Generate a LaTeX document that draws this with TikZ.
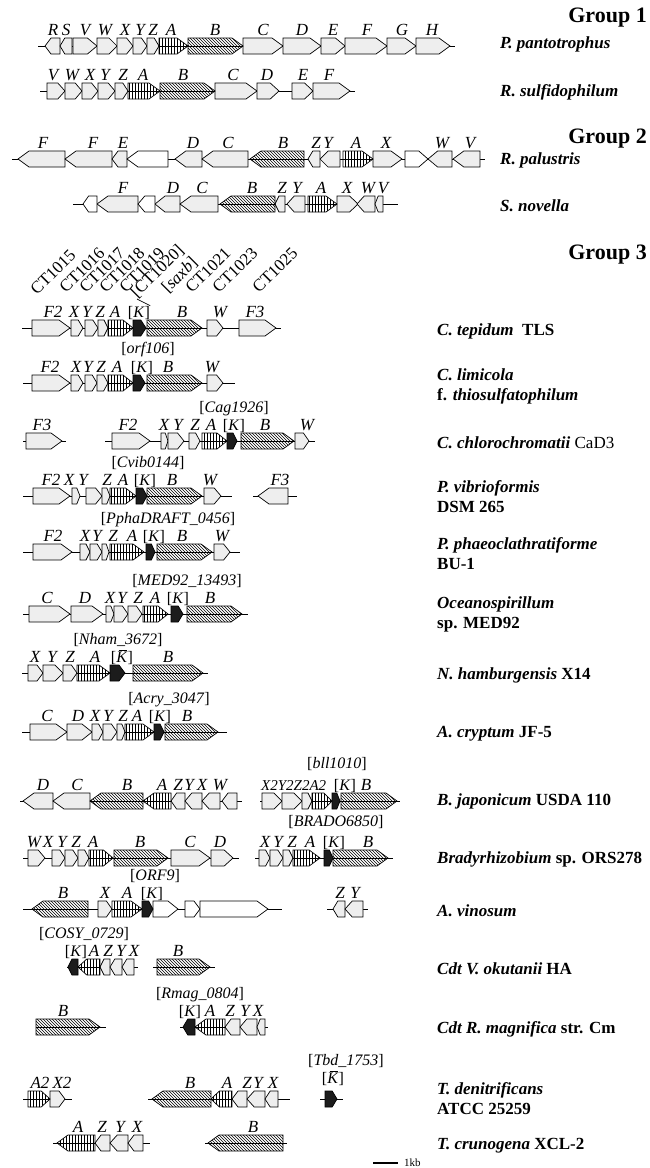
\documentclass[tikz,border=0pt]{standalone}
\usepackage{fontspec}
\setmainfont{Liberation Serif}
\usetikzlibrary{patterns}
\definecolor{genefill}{HTML}{EEEEEE}
\definecolor{kfill}{HTML}{1C1C1C}
\newcommand{\gene}[4]{%
    % #1=style, #2=start x, #3=tip x, #4=row y
    \pgfmathsetmacro{\gtip}{min(11,0.4*abs(#3-#2))*sign(#3-#2)}
    \draw[#1] (#2,#4-8) -- ({#3-\gtip},#4-8) -- (#3,#4) -- ({#3-\gtip},#4+8) -- (#2,#4+8) -- cycle;
}
\newcommand{\Kbar}{[\textit{\makebox[0pt][l]{\hspace{0.14em}\rule[0.74em]{0.55em}{0.6pt}}K}]}

\begin{document}
\begin{tikzpicture}[x=1pt, y=-1pt,
    genebox/.style={draw, fill=genefill, line width=0.7pt},
    geneA/.style={draw, pattern=vertical lines, line width=0.7pt},
    geneB/.style={draw, pattern=north west lines, line width=0.7pt},
    geneK/.style={draw, fill=kfill, line width=0.7pt},
    geneW/.style={draw, fill=white, line width=0.7pt},
    spine/.style={line width=0.7pt},
    genelab/.style={font=\fontsize{17}{17}\selectfont\itshape, anchor=base, inner sep=0pt},
    locuslab/.style={font=\fontsize{16}{16}\selectfont, anchor=base, inner sep=0pt},
    taglab/.style={font=\fontsize{17}{17}\selectfont, anchor=base west, rotate=45, inner sep=0pt},
    orglab/.style={font=\fontsize{17}{20}\selectfont\bfseries, anchor=west, align=left, inner sep=0pt},
    grouplab/.style={font=\fontsize{22}{22}\selectfont\bfseries, anchor=east, inner sep=0pt}
]
    \useasboundingbox (0,0) rectangle (649,1168);

    % ---- Group 1 ----
    \node[grouplab] (g1) at (647,18) {Group 1};
    \draw[spine] (38,46) -- (455,46);
    \foreach \a/\b in {60/45,72/60,73/97,97/117,117/133,133/147,147/159,243/283,283/321,321/345,345/387,387/416,416/450} {\gene{genebox}{\a}{\b}{46}}
    \gene{geneA}{159}{188}{46}
    \gene{geneB}{188}{243}{46}
    \foreach \lx/\lt [count=\i] in {53/R,66/S,85/V,105/W,125/X,140/Y,153/Z,171/A,215/B,263/C,302/D,333/E,367/F,402/G,432/H}
        \node[genelab] (pa\i) at (\lx,35) {\lt};
    \node[orglab] (ppan) at (500,44) {\itshape P. pantotrophus};

    \draw[spine] (40,91) -- (355,91);
    \foreach \a/\b in {47/65,65/82,82/98,98/115,115/128,215/257,257/279,292/313,313/350} {\gene{genebox}{\a}{\b}{91}}
    \gene{geneA}{128}{160}{91}
    \gene{geneB}{160}{215}{91}
    \foreach \lx/\lt [count=\i] in {53/V,72/W,90/X,105/Y,123/Z,143/A,183/B,233/C,267/D,303/E,329/F}
        \node[genelab] (rs\i) at (\lx,80) {\lt};
    \node[orglab] (rsul) at (500,92) {\itshape R. sulfidophilum};

    % ---- Group 2 ----
    \node[grouplab] (g2) at (647,139) {Group 2};
    \draw[spine] (12,159) -- (485,159);
    \foreach \a/\b in {65/18,112/65,127/112,202/175,248/202,320/308,340/320,373/402,452/428,480/453} {\gene{genebox}{\a}{\b}{159}}
    \gene{geneW}{168}{127}{159}
    \gene{geneW}{405}{428}{159}
    \gene{geneA}{343}{373}{159}
    \gene{geneB}{304}{250}{159}
    \foreach \lx/\lt [count=\i] in {43/F,93/F,123/E,193/D,228/C,283/B,316/Z,328/Y,356/A,386/X,442/W,470/V}
        \node[genelab] (rp\i) at (\lx,148) {\lt};
    \node[orglab] (rpal) at (500,160) {\itshape R. palustris};

    \draw[spine] (73,204) -- (398,204);
    \foreach \a/\b in {138/97,180/155,218/180,285/275,305/287,337/358,375/357,383/375} {\gene{genebox}{\a}{\b}{204}}
    \gene{geneW}{97}{83}{204}
    \gene{geneW}{155}{138}{204}
    \gene{geneA}{308}{337}{204}
    \gene{geneB}{275}{220}{204}
    \foreach \lx/\lt [count=\i] in {123/F,173/D,202/C,252/B,282/Z,297/Y,321/A,347/X,368/W,383/V}
        \node[genelab] (sn\i) at (\lx,193) {\lt};
    \node[orglab] (snov) at (500,206) {\itshape S. novella};

    % ---- Group 3 ----
    \node[grouplab] (g3) at (647,255) {Group 3};

    % C. tepidum
    \foreach \tx/\ty/\tt [count=\i] in {37/296/CT1015,66/294/CT1016,86/294/CT1017,106/294/CT1018,126/294/CT1019,137/299/[CT1020],168/294/[\textit{saxb}],192/294/CT1021,219/294/CT1023,259/294/CT1025}
        \node[taglab] (tg\i) at (\tx,\ty) {\tt};
    \draw[spine] (22,328) -- (281,328);
    \foreach \a/\b in {32/70,71/83,85/98,98/108,207/223,239/276} {\gene{genebox}{\a}{\b}{328}}
    \gene{geneA}{108}{133}{328}
    \gene{geneK}{133}{146}{328}
    \gene{geneB}{147}{202}{328}
    \foreach \lx/\lt [count=\i] in {53/F2,74/X,87/Y,100/Z,115/A,182/B,220/W,255/F3}
        \node[genelab] (ct\i) at (\lx,317) {\lt};
    \node[locuslab] (ctK) at (139,317) {[\textit{K}]};
    \draw[spine] (tg6.base west) -- (ctK.north east);
    \node[orglab] (ctep) at (437,331) {\itshape C. tepidum\ \ \upshape TLS};

    % C. limicola
    \draw[spine] (23,383) -- (235,383);
    \foreach \a/\b in {32/70,71/83,85/97,97/108,207/223} {\gene{genebox}{\a}{\b}{383}}
    \gene{geneA}{108}{133}{383}
    \gene{geneK}{133}{145}{383}
    \gene{geneB}{147}{202}{383}
    \foreach \lx/\lt [count=\i] in {50/F2,76/X,88/Y,101/Z,117/A,168/B,212/W}
        \node[genelab] (cl\i) at (\lx,372) {\lt};
    \node[locuslab] (clK) at (142,372) {[\textit{K}]};
    \node[locuslab] (cltag) at (148,353) {[\textit{orf106}]};
    \node[orglab] (clim) at (437,386) {\itshape C. limicola\\f. \itshape thiosulfatophilum};

    % C. chlorochromatii
    \draw[spine] (23,441) -- (66,441);
    \draw[spine] (105,441) -- (315,441);
    \foreach \a/\b in {26/62,112/150,161/168,168/184,189/200,295/309} {\gene{genebox}{\a}{\b}{441}}
    \gene{geneA}{202}{227}{441}
    \gene{geneK}{227}{237}{441}
    \gene{geneB}{241}{294}{441}
    \foreach \lx/\lt [count=\i] in {42/F3,128/F2,164/X,178/Y,195/Z,211/A,265/B,307/W}
        \node[genelab] (cc\i) at (\lx,430) {\lt};
    \node[locuslab] (ccK) at (234,430) {[\textit{K}]};
    \node[locuslab] (cctag) at (234,412) {[\textit{Cag1926}]};
    \node[orglab] (cchl) at (437,443) {\itshape C. chlorochromatii \mdseries\upshape CaD3};

    % P. vibrioformis
    \draw[spine] (23,496) -- (232,496);
    \draw[spine] (253,496) -- (297,496);
    \foreach \a/\b in {33/70,72/80,86/102,102/110,204/221,288/258} {\gene{genebox}{\a}{\b}{496}}
    \gene{geneA}{110}{136}{496}
    \gene{geneK}{136}{147}{496}
    \gene{geneB}{147}{202}{496}
    \foreach \lx/\lt [count=\i] in {51/F2,69/X,83/Y,107/Z,123/A,172/B,210/W,280/F3}
        \node[genelab] (pv\i) at (\lx,485) {\lt};
    \node[locuslab] (pvK) at (145,485) {[\textit{K}]};
    \node[locuslab] (pvtag) at (148,467) {[\textit{Cvib0144}]};
    \node[orglab] (pvib) at (437,497) {\itshape P. vibrioformis\\DSM 265};

    % P. phaeoclathratiforme
    \draw[spine] (23,552) -- (240,552);
    \foreach \a/\b in {33/72,80/90,90/102,102/109,214/230} {\gene{genebox}{\a}{\b}{552}}
    \gene{geneA}{110}{144}{552}
    \gene{geneK}{146}{155}{552}
    \gene{geneB}{157}{212}{552}
    \foreach \lx/\lt [count=\i] in {53/F2,85/X,97/Y,113/Z,132/A,182/B,222/W}
        \node[genelab] (pp\i) at (\lx,541) {\lt};
    \node[locuslab] (ppK) at (154,541) {[\textit{K}]};
    \node[locuslab] (pptag) at (168,523) {[\textit{PphaDRAFT\_0456}]};
    \node[orglab] (ppha) at (437,554) {\itshape P. phaeoclathratiforme\\BU-1};

    % Oceanospirillum
    \draw[spine] (23,614) -- (248,614);
    \foreach \a/\b in {29/70,71/103,106/114,114/128,128/142} {\gene{genebox}{\a}{\b}{614}}
    \gene{geneA}{143}{168}{614}
    \gene{geneK}{171}{183}{614}
    \gene{geneB}{187}{242}{614}
    \foreach \lx/\lt [count=\i] in {47/C,85/D,110/X,122/Y,138/Z,155/A,210/B}
        \node[genelab] (oc\i) at (\lx,603) {\lt};
    \node[locuslab] (ocK) at (178,603) {[\textit{K}]};
    \node[locuslab] (octag) at (187,585) {[\textit{MED92\_13493}]};
    \node[orglab] (ocea) at (437,614) {\itshape Oceanospirillum\\sp. MED92};

    % N. hamburgensis
    \draw[spine] (22,673) -- (208,673);
    \foreach \a/\b in {28/43,43/63,63/77} {\gene{genebox}{\a}{\b}{673}}
    \gene{geneA}{77}{110}{673}
    \gene{geneK}{110}{125}{673}
    \gene{geneB}{133}{203}{673}
    \foreach \lx/\lt [count=\i] in {35/X,52/Y,70/Z,95/A,168/B}
        \node[genelab] (nh\i) at (\lx,662) {\lt};
    \node[locuslab] (nhK) at (122,662) {\Kbar};
    \node[locuslab] (nhtag) at (118,644) {[\textit{Nham\_3672}]};
    \node[orglab] (nham) at (437,675) {\itshape N. hamburgensis \upshape X14};

    % A. cryptum
    \draw[spine] (22,732) -- (227,732);
    \foreach \a/\b in {30/67,67/92,92/103,103/117,117/125} {\gene{genebox}{\a}{\b}{732}}
    \gene{geneA}{125}{154}{732}
    \gene{geneK}{154}{164}{732}
    \gene{geneB}{165}{218}{732}
    \foreach \lx/\lt [count=\i] in {47/C,78/D,95/X,108/Y,123/Z,137/A,187/B}
        \node[genelab] (ac\i) at (\lx,721) {\lt};
    \node[locuslab] (acK) at (160,721) {[\textit{K}]};
    \node[locuslab] (actag) at (169,703) {[\textit{Acry\_3047}]};
    \node[orglab] (acry) at (437,734) {\itshape A. cryptum \upshape JF-5};

    % B. japonicum
    \draw[spine] (20,801) -- (242,801);
    \draw[spine] (260,801) -- (400,801);
    \foreach \a/\b in {53/23,90/53,185/171,202/185,220/202,237/222,262/282,282/302,302/312} {\gene{genebox}{\a}{\b}{801}}
    \gene{geneA}{171}{143}{801}
    \gene{geneA}{312}{332}{801}
    \gene{geneB}{143}{90}{801}
    \gene{geneB}{341}{397}{801}
    \gene{geneK}{332}{340}{801}
    \foreach \lx/\lt [count=\i] in {43/D,77/C,127/B,162/A,178/Z,189/Y,202/X,220/W,366/B}
        \node[genelab] (bj\i) at (\lx,790) {\lt};
    \node[genelab, anchor=base west, font=\fontsize{15}{15}\selectfont\itshape] (bjrun) at (261,790) {X2Y2Z2A2};
    \node[locuslab] (bjK) at (345,790) {[\textit{K}]};
    \node[locuslab] (bjtag) at (337,768) {[\textit{bll1010}]};
    \node[orglab] (bjap) at (437,801) {\itshape B. japonicum \upshape USDA 110};

    % Bradyrhizobium
    \draw[spine] (23,858) -- (239,858);
    \draw[spine] (255,858) -- (393,858);
    \foreach \a/\b in {28/45,52/65,65/78,78/89,171/210,211/233,259/270,270/283,283/293} {\gene{genebox}{\a}{\b}{858}}
    \gene{geneA}{89}{113}{858}
    \gene{geneA}{293}{320}{858}
    \gene{geneB}{114}{168}{858}
    \gene{geneB}{333}{388}{858}
    \gene{geneK}{324}{333}{858}
    \foreach \lx/\lt [count=\i] in {34/W,48/X,62/Y,76/Z,93/A,140/B,190/C,220/D,265/X,278/Y,292/Z,310/A,368/B}
        \node[genelab] (br\i) at (\lx,847) {\lt};
    \node[locuslab] (brK) at (334,847) {[\textit{K}]};
    \node[locuslab] (brtag) at (336,826) {[\textit{BRADO6850}]};
    \node[orglab] (brad) at (437,859) {\itshape Bradyrhizobium \upshape sp. ORS278};

    % A. vinosum
    \draw[spine] (23,909) -- (282,909);
    \draw[spine] (327,909) -- (368,909);
    \foreach \a/\b in {98/112,345/333,363/345} {\gene{genebox}{\a}{\b}{909}}
    \foreach \a/\b in {153/178,185/200,200/268} {\gene{geneW}{\a}{\b}{909}}
    \gene{geneA}{112}{142}{909}
    \gene{geneK}{142}{153}{909}
    \gene{geneB}{88}{32}{909}
    \foreach \lx/\lt [count=\i] in {63/B,105/X,127/A,340/Z,355/Y}
        \node[genelab] (av\i) at (\lx,898) {\lt};
    \node[locuslab] (avK) at (152,898) {[\textit{K}]};
    \node[locuslab] (avtag) at (155,880) {[\textit{ORF9}]};
    \node[orglab] (avin) at (437,911) {\itshape A. vinosum};

    % Cdt V. okutanii
    \draw[spine] (67,967) -- (138,967);
    \draw[spine] (153,967) -- (215,967);
    \foreach \a/\b in {110/100,122/110,134/122} {\gene{genebox}{\a}{\b}{967}}
    \gene{geneA}{100}{78}{967}
    \gene{geneK}{78}{68}{967}
    \gene{geneB}{157}{210}{967}
    \foreach \lx/\lt [count=\i] in {94/A,108/Z,121/Y,134/X,178/B}
        \node[genelab] (vo\i) at (\lx,956) {\lt};
    \node[locuslab] (voK) at (76,956) {[\textit{K}]};
    \node[locuslab] (votag) at (84,938) {[\textit{COSY\_0729}]};
    \node[orglab] (voku) at (437,969) {\itshape Cdt V. okutanii \upshape HA};

    % Cdt R. magnifica
    \draw[spine] (36,1027) -- (106,1027);
    \draw[spine] (180,1027) -- (268,1027);
    \foreach \a/\b in {240/225,257/240,265/257} {\gene{genebox}{\a}{\b}{1027}}
    \gene{geneA}{225}{195}{1027}
    \gene{geneK}{195}{183}{1027}
    \gene{geneB}{36}{100}{1027}
    \foreach \lx/\lt [count=\i] in {63/B,210/A,230/Z,245/Y,258/X}
        \node[genelab] (rm\i) at (\lx,1016) {\lt};
    \node[locuslab] (rmK) at (190,1016) {[\textit{K}]};
    \node[locuslab] (rmtag) at (200,998) {[\textit{Rmag\_0804}]};
    \node[orglab] (rmag) at (437,1029) {\itshape Cdt R. magnifica \upshape str. Cm};

    % T. denitrificans
    \draw[spine] (23,1099) -- (72,1099);
    \draw[spine] (148,1099) -- (290,1099);
    \draw[spine] (320,1099) -- (343,1099);
    \foreach \a/\b in {50/65,247/232,265/247,278/265} {\gene{genebox}{\a}{\b}{1099}}
    \gene{geneA}{28}{50}{1099}
    \gene{geneA}{232}{211}{1099}
    \gene{geneB}{211}{152}{1099}
    \gene{geneK}{325}{337}{1099}
    \foreach \lx/\lt [count=\i] in {40/A2,62/X2,190/B,227/A,247/Z,258/Y,273/X}
        \node[genelab] (td\i) at (\lx,1088) {\lt};
    \node[locuslab] (tdK) at (333,1083) {\Kbar};
    \node[locuslab] (tdtag) at (346,1065) {[\textit{Tbd\_1753}]};
    \node[orglab] (tden) at (437,1099) {\itshape T. denitrificans\\ATCC 25259};

    % T. crunogena
    \draw[spine] (53,1143) -- (150,1143);
    \draw[spine] (205,1143) -- (287,1143);
    \foreach \a/\b in {110/95,128/110,143/128} {\gene{genebox}{\a}{\b}{1143}}
    \gene{geneA}{95}{57}{1143}
    \gene{geneB}{283}{208}{1143}
    \foreach \lx/\lt [count=\i] in {78/A,102/Z,120/Y,137/X,253/B}
        \node[genelab] (tc\i) at (\lx,1132) {\lt};
    \node[orglab] (tcru) at (437,1146) {\itshape T. crunogena \upshape XCL-2};

    % scale bar
    \coordinate (sb1) at (373,1163);
    \coordinate (sb2) at (398,1163);
    \draw[line width=2pt] (sb1) -- (sb2) node[right, font=\fontsize{11}{11}\selectfont, inner sep=5pt] (kb) {1kb};
\end{tikzpicture}
\end{document}
